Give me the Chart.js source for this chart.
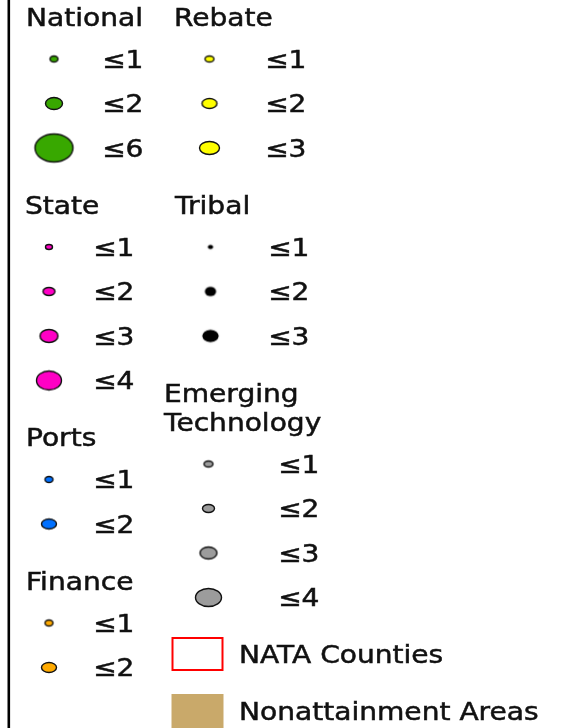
<!DOCTYPE html>
<html>
<head>
<meta charset="utf-8">
<script src="https://cdn.jsdelivr.net/npm/chart.js@4"></script>
<style>
  html, body { margin: 0; padding: 0; background: #fff; overflow: hidden; }
  #wrap { width: 568px; height: 728px; position: relative; }
</style>
</head>
<body>
<div id="wrap"><canvas id="legendChart"></canvas></div>
<script>
// Class upper bounds shown in each legend group
const nationalMax = [1, 2, 6];
const rebateMax = [1, 2, 3];
const stateMax = [1, 2, 3, 4];
const tribalMax = [1, 2, 3];
const portsMax = [1, 2];
const financeMax = [1, 2];
const emergingMax = [1, 2, 3, 4];
const areaLayers = ['NATA Counties', 'Nonattainment Areas'];

// Group titles (multi-line titles split into lines)
const leftColumn = [['National'], ['State'], ['Ports'], ['Finance']];
const rightColumn = [['Rebate'], ['Tribal'], ['Emerging', 'Technology']];
const groupValues = {
    'National': nationalMax,
    'Rebate': rebateMax,
    'State': stateMax,
    'Tribal': tribalMax,
    'Ports': portsMax,
    'Finance': financeMax,
    'Emerging': emergingMax
};

// ---- styles / layout ----
const groupStyle = {
    'National': { fill: '#38a800', stroke: '#111', headX: 26, markX: 54, labX: 102, sizes: [[9, 7], [18, 13], [39, 29]] },
    'Rebate':   { fill: '#ffff00', stroke: '#111', headX: 174, markX: 209.5, labX: 265, sizes: [[10, 7], [16, 11], [21, 14]] },
    'State':    { fill: '#ff00c5', stroke: '#111', headX: 25, markX: 49, labX: 93, sizes: [[8, 6], [13, 9], [19, 14], [26, 20]] },
    'Tribal':   { fill: '#000000', stroke: null, headX: 175, markX: 210.5, labX: 268, sizes: [[6, 5], [12, 10], [17, 13]] },
    'Ports':    { fill: '#0070ff', stroke: '#111', headX: 26, markX: 49, labX: 93, sizes: [[9, 7], [16, 11]] },
    'Finance':  { fill: '#ffaa00', stroke: '#111', headX: 26, markX: 49, labX: 93, sizes: [[9, 7], [16, 11]] },
    'Emerging': { fill: '#9c9c9c', stroke: '#111', headX: 164, markX: 208.5, labX: 278, sizes: [[10, 7], [13, 9], [18, 13], [27, 19]] }
};
const areaStyle = { markX: 197.5, labX: 239, size: [52, 34], fills: ['rgba(0,0,0,0)', '#c9a96a'], strokes: ['#ff0000', null] };

const TOP = 17, HEAD_TO_ROW = 42, ROW = 44.5, ROW_TO_HEAD = 57, HEAD_LINE = 29;
const ROW_TO_BOX = 56.5, BOX_STEP = 57;
const TEXT_SX = 1.17;
const FONT = '24px "DejaVu Sans", Verdana, sans-serif';

// Build a marker image (ellipse or box)
function makeMarker(w, h, fill, stroke, shape, lineW) {
    const c = document.createElement('canvas');
    c.width = w + 4;
    c.height = h + 4;
    const g = c.getContext('2d');
    const cx = c.width / 2, cy = c.height / 2;
    if (shape === 'box') {
        g.fillStyle = fill;
        g.fillRect(cx - w / 2, cy - h / 2, w, h);
        if (stroke) {
            g.strokeStyle = stroke;
            g.lineWidth = lineW || 2;
            g.strokeRect(cx - w / 2 + 1, cy - h / 2 + 1, w - 2, h - 2);
        }
        return c;
    }
    g.beginPath();
    g.ellipse(cx, cy, w / 2 - 0.5, h / 2 - 0.5, 0, 0, Math.PI * 2);
    g.fillStyle = fill;
    if (!stroke) {
        // tribal dots are soft-edged in the original
        g.shadowColor = 'rgba(0,0,0,0.6)';
        g.shadowBlur = 1.5;
    }
    g.fill();
    if (stroke) {
        g.lineWidth = 1.4;
        g.strokeStyle = stroke;
        g.stroke();
    }
    return c;
}

const texts = [];
const datasets = [];

function layoutColumn(column, withAreas) {
    let y = TOP;
    let lastRow = null;
    column.forEach((titleLines, gi) => {
        const key = titleLines[0];
        const st = groupStyle[key];
        const vals = groupValues[key];
        if (gi > 0) y = lastRow + ROW_TO_HEAD;
        titleLines.forEach((line, li) => {
            texts.push({ str: line, x: st.headX, y: y + li * HEAD_LINE });
        });
        let rowY = y + (titleLines.length - 1) * HEAD_LINE + HEAD_TO_ROW;
        const points = [];
        const styles = [];
        vals.forEach((v, i) => {
            points.push({ x: st.markX, y: rowY });
            const sz = st.sizes[i];
            styles.push(makeMarker(sz[0], sz[1], st.fill, st.stroke, 'ellipse'));
            texts.push({ str: '\u2264' + v, x: st.labX, y: rowY });
            lastRow = rowY;
            rowY += ROW;
        });
        datasets.push({ label: key, data: points, pointStyle: styles, pointRadius: 6 });
    });
    if (withAreas) {
        let yb = lastRow + ROW_TO_BOX;
        const points = [];
        const styles = [];
        areaLayers.forEach((name, i) => {
            points.push({ x: areaStyle.markX, y: yb });
            styles.push(makeMarker(areaStyle.size[0], areaStyle.size[1], areaStyle.fills[i], areaStyle.strokes[i], 'box', 2));
            texts.push({ str: name, x: areaStyle.labX, y: yb });
            yb += BOX_STEP;
        });
        datasets.push({ label: 'Areas', data: points, pointStyle: styles, pointRadius: 6 });
    }
}

layoutColumn(leftColumn, false);
layoutColumn(rightColumn, true);

// Draws the frame line and the legend text through the chart scales
const legendText = {
    id: 'legendText',
    beforeDatasetsDraw(chart) {
        const { ctx, scales } = chart;
        ctx.save();
        ctx.fillStyle = '#000';
        const x0 = scales.x.getPixelForValue(7.5);
        ctx.fillRect(x0, scales.y.getPixelForValue(0), 2.6, scales.y.getPixelForValue(728) - scales.y.getPixelForValue(0));
        ctx.restore();
    },
    afterDatasetsDraw(chart) {
        const { ctx, scales } = chart;
        ctx.save();
        ctx.font = FONT;
        ctx.fillStyle = '#111';
        ctx.strokeStyle = '#111';
        ctx.lineWidth = 0.5;
        ctx.textBaseline = 'alphabetic';
        texts.forEach(t => {
            ctx.save();
            ctx.translate(scales.x.getPixelForValue(t.x), scales.y.getPixelForValue(t.y) + 8.5);
            ctx.scale(TEXT_SX, 1);
            ctx.fillText(t.str, 0, 0);
            ctx.strokeText(t.str, 0, 0);
            ctx.restore();
        });
        ctx.restore();
    }
};

new Chart(document.getElementById('legendChart'), {
    type: 'scatter',
    data: { datasets: datasets },
    options: {
        responsive: true,
        maintainAspectRatio: false,
        animation: false,
        events: [],
        layout: { padding: 0, autoPadding: false },
        plugins: { legend: { display: false }, tooltip: { enabled: false } },
        scales: {
            x: { type: 'linear', min: 0, max: 568, display: false },
            y: { type: 'linear', min: 0, max: 728, reverse: true, display: false }
        }
    },
    plugins: [legendText]
});
</script>
</body>
</html>
